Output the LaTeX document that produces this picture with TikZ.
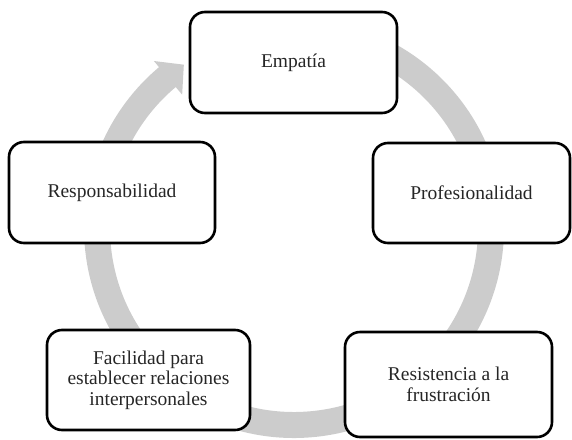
\documentclass[tikz,border=0pt]{standalone}
\usepackage{fontspec}
\setmainfont{Liberation Serif}
\definecolor{bandgray}{RGB}{204,204,204}
\begin{document}
\begin{tikzpicture}[x=1pt,y=-1pt,
  box/.style={draw=black, line width=2.6pt, fill=white, rounded corners=15pt,
    align=center, inner sep=0pt, text=black!85, font=\fontsize{19.5}{20.5}\selectfont},
  band/.style={draw=bandgray, line width=26pt}]
\useasboundingbox (0,0) rectangle (572,439);
\coordinate (C) at (294,228);
\draw[band] ([shift={(95:197pt)}]C) arc[start angle=95, end angle=-230.5, radius=197pt];
\fill[bandgray] ([shift={(130:218pt)}]C) -- ([shift={(124:197pt)}]C) -- ([shift={(130:174pt)}]C) -- cycle;
\node[box, minimum width=207pt, minimum height=101pt] (emp) at (293.5,62.5) {Empatía};
\node[box, minimum width=206pt, minimum height=101pt] (resp) at (112,192.5) {Responsabilidad};
\node[box, minimum width=197pt, minimum height=100pt] (prof) at (471.5,193) {Profesionalidad};
\node[box, minimum width=203pt, minimum height=100pt] (faci) at (148.5,380) {Facilidad para\\establecer relaciones\\interpersonales};
\node[box, minimum width=207pt, minimum height=105pt] (res) at (448.5,384.5) {Resistencia a la\\frustración};
\end{tikzpicture}
\end{document}
